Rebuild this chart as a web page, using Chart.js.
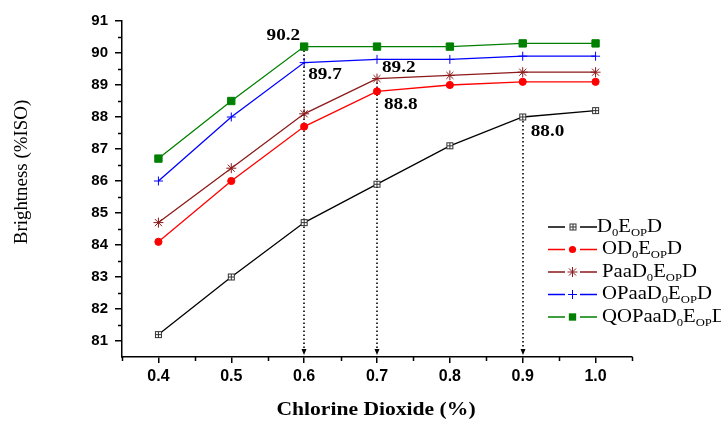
<!DOCTYPE html>
<html>
<head>
<meta charset="utf-8">
<script src="https://cdn.jsdelivr.net/npm/chart.js@4/dist/chart.umd.min.js"></script>
<style>
  html, body { margin: 0; padding: 0; background: #fff; }
  #wrap { width: 721px; height: 421px; }
</style>
</head>
<body>
<div id="wrap"><canvas id="c" width="721" height="421"></canvas></div>
<script>
// ---- data ----
const chlorineDioxide = [0.4, 0.5, 0.6, 0.7, 0.8, 0.9, 1.0];
const seriesNames = ['D_{0}E_{OP}D', 'OD_{0}E_{OP}D', 'PaaD_{0}E_{OP}D', 'OPaaD_{0}E_{OP}D', 'QOPaaD_{0}E_{OP}D'];
const d0EopD      = [81.2, 83.0, 84.7, 85.9, 87.1, 88.0, 88.2];
const od0EopD     = [84.1, 86.0, 87.7, 88.8, 89.0, 89.1, 89.1];
const paaD0EopD   = [84.7, 86.4, 88.1, 89.2, 89.3, 89.4, 89.4];
const opaaD0EopD  = [86.0, 88.0, 89.7, 89.8, 89.8, 89.9, 89.9];
const qopaaD0EopD = [86.7, 88.5, 90.2, 90.2, 90.2, 90.3, 90.3];
const xTicks = [0.4, 0.5, 0.6, 0.7, 0.8, 0.9, 1.0];
const yTicks = [81, 82, 83, 84, 85, 86, 87, 88, 89, 90, 91];
const arrowX = [0.6, 0.7, 0.9];
const arrowFromY = [90.2, 89.2, 88.0];
const labelX = [0.6, 0.6, 0.7, 0.7, 0.9];
const labelY = [90.2, 89.7, 89.2, 88.8, 88.0];
const xTitle = 'Chlorine Dioxide (%)';
const yTitle = 'Brightness (%ISO)';

// ---- styles ----
function boxPlus() {
  const c = document.createElement('canvas');
  c.width = 9; c.height = 9;
  const g = c.getContext('2d');
  g.fillStyle = '#fff'; g.fillRect(1, 1, 7, 7);
  g.strokeStyle = '#333'; g.lineWidth = 1;
  g.strokeRect(1.5, 1.5, 6, 6);
  g.beginPath(); g.moveTo(4.5, 1.5); g.lineTo(4.5, 7.5); g.moveTo(1.5, 4.5); g.lineTo(7.5, 4.5); g.stroke();
  return c;
}
const boxImg = boxPlus();
const styles = [
  { color: '#000000', point: boxImg, radius: 4 },
  { color: '#ff0000', point: 'circle', radius: 3.6, fill: true },
  { color: '#8b1a1a', point: 'star', radius: 5 },
  { color: '#0000ff', point: 'cross', radius: 4.5 },
  { color: '#008000', point: 'rect', radius: 5.2, fill: true }
];
const allSeries = [d0EopD, od0EopD, paaD0EopD, opaaD0EopD, qopaaD0EopD];

const datasets = allSeries.map((vals, i) => ({
  label: seriesNames[i],
  data: chlorineDioxide.map((x, j) => ({ x: x, y: vals[j] })),
  borderColor: styles[i].color,
  backgroundColor: styles[i].fill ? styles[i].color : '#fff',
  pointBackgroundColor: styles[i].fill ? styles[i].color : '#fff',
  pointBorderColor: styles[i].color,
  pointStyle: styles[i].point,
  pointRadius: styles[i].radius,
  pointBorderWidth: 1,
  borderWidth: 1.3,
  tension: 0,
  fill: false
}));

const SERIF = '"Liberation Serif", "Times New Roman", serif';

function drawStretched(ctx, text, x, y, font, align, sx) {
  ctx.save();
  ctx.font = font;
  ctx.textBaseline = 'middle';
  const w = ctx.measureText(text).width * sx;
  let left = x;
  if (align === 'right') left = x - w;
  else if (align === 'center') left = x - w / 2;
  ctx.translate(left, y);
  ctx.scale(sx, 1);
  ctx.textAlign = 'left';
  ctx.fillText(text, 0, 0);
  ctx.restore();
}

function drawMarker(ctx, st, x, y) {
  ctx.save();
  ctx.strokeStyle = st.color; ctx.fillStyle = st.color; ctx.lineWidth = 1;
  const r = st.radius;
  if (st.point === boxImg) {
    ctx.drawImage(boxImg, Math.round(x) - 4.5, Math.round(y) - 4.5);
  } else if (st.point === 'circle') {
    ctx.beginPath(); ctx.arc(x, y, r, 0, Math.PI * 2); ctx.fill();
  } else if (st.point === 'rect') {
    const s = r * Math.SQRT1_2;
    ctx.fillRect(x - s, y - s, 2 * s, 2 * s);
  } else if (st.point === 'cross') {
    ctx.beginPath(); ctx.moveTo(x - r, y); ctx.lineTo(x + r, y); ctx.moveTo(x, y - r); ctx.lineTo(x, y + r); ctx.stroke();
  } else if (st.point === 'star') {
    ctx.beginPath();
    for (let k = 0; k < 4; k++) {
      const a = k * Math.PI / 4;
      ctx.moveTo(x - r * Math.cos(a), y - r * Math.sin(a));
      ctx.lineTo(x + r * Math.cos(a), y + r * Math.sin(a));
    }
    ctx.stroke();
  }
  ctx.restore();
}

const decorPlugin = {
  id: 'decor',
  beforeDatasetsDraw(chart) {
    const ctx = chart.ctx, xs = chart.scales.x, ys = chart.scales.y;
    const ca = chart.chartArea;
    ctx.save();
    ctx.strokeStyle = '#000'; ctx.lineWidth = 1.5;
    // minor ticks
    ctx.beginPath();
    for (let k = 0; k < xTicks.length + 1; k++) {
      const v = 0.35 + k * 0.1;
      const px = Math.round(xs.getPixelForValue(v)) + 0.5;
      ctx.moveTo(px, ca.bottom); ctx.lineTo(px, ca.bottom + 4);
    }
    for (let k = 0; k < yTicks.length - 1; k++) {
      const v = yTicks[k] + 0.5;
      const py = Math.round(ys.getPixelForValue(v)) + 0.5;
      ctx.moveTo(ca.left, py); ctx.lineTo(ca.left - 4, py);
    }
    ctx.stroke();
    // dotted arrows
    ctx.setLineDash([1.5, 2.5]);
    ctx.lineWidth = 1.6;
    arrowX.forEach((xv, i) => {
      const px = Math.round(xs.getPixelForValue(xv));
      const py = ys.getPixelForValue(arrowFromY[i]);
      ctx.beginPath(); ctx.moveTo(px, py + 4); ctx.lineTo(px, ca.bottom - 7); ctx.stroke();
    });
    ctx.setLineDash([]);
    ctx.fillStyle = '#000';
    arrowX.forEach((xv) => {
      const px = Math.round(xs.getPixelForValue(xv));
      const tip = ca.bottom - 2;
      ctx.beginPath(); ctx.moveTo(px - 2.5, tip - 6); ctx.lineTo(px + 2.5, tip - 6); ctx.lineTo(px, tip); ctx.closePath(); ctx.fill();
    });
    ctx.restore();
  },
  afterDraw(chart) {
    const ctx = chart.ctx, xs = chart.scales.x, ys = chart.scales.y;
    ctx.save();
    ctx.fillStyle = '#000';
    // value labels
    const offs = [[-4, -11, 'right'], [4, 12, 'left'], [5, -11, 'left'], [7, 13, 'left'], [8, 15, 'left']];
    labelX.forEach((xv, i) => {
      const px = xs.getPixelForValue(xv), py = ys.getPixelForValue(labelY[i]);
      drawStretched(ctx, labelY[i].toFixed(1), px + offs[i][0], py + offs[i][1], 'bold 16px ' + SERIF, offs[i][2], 1.2);
    });
    // axis titles
    drawStretched(ctx, xTitle, 376, 410, 'bold 18px ' + SERIF, 'center', 1.2);
    ctx.save();
    ctx.translate(22, 172);
    ctx.rotate(-Math.PI / 2);
    ctx.scale(1.05, 1.0);
    ctx.font = '18px ' + SERIF;
    ctx.textAlign = 'center'; ctx.textBaseline = 'middle';
    ctx.fillText(yTitle, 0, 0);
    ctx.restore();
    // legend
    chart.data.datasets.forEach((ds, i) => {
      const st = styles[i];
      const y = 227 + i * 22.5;
      ctx.save();
      ctx.strokeStyle = st.color; ctx.lineWidth = 1.4;
      ctx.beginPath(); ctx.moveTo(548, y); ctx.lineTo(565, y); ctx.moveTo(580, y); ctx.lineTo(597, y); ctx.stroke();
      ctx.restore();
      drawMarker(ctx, st, 572.5, y);
      // text with subscripts
      const parts = ds.label.split(/(_\{[^}]*\})/).filter(s => s.length);
      let x = i === 0 ? 597 : 602;
      parts.forEach(p => {
        if (p.startsWith('_{')) {
          const t = p.slice(2, -1);
          ctx.font = '11px ' + SERIF;
          drawStretched(ctx, t, x, y + 6, '11px ' + SERIF, 'left', 1.15);
          x += ctx.measureText(t).width * 1.15;
        } else {
          ctx.font = '18px ' + SERIF;
          drawStretched(ctx, p, x, y, '18px ' + SERIF, 'left', 1.15);
          x += ctx.measureText(p).width * 1.15;
        }
      });
    });
    ctx.restore();
  }
};

new Chart(document.getElementById('c'), {
  type: 'line',
  data: { datasets: datasets },
  options: {
    responsive: false,
    animation: false,
    devicePixelRatio: 1,
    layout: { padding: { left: 0, right: 89, top: 21, bottom: 0 } },
    plugins: { legend: { display: false }, tooltip: { enabled: false } },
    scales: {
      x: {
        type: 'linear',
        min: 0.35, max: 1.05,
        afterBuildTicks(scale) { scale.ticks = xTicks.map(v => ({ value: v })); },
        afterFit(scale) { scale.height = 64; },
        grid: { drawOnChartArea: false, drawTicks: true, tickLength: 6, color: '#000', lineWidth: 1.5 },
        border: { display: true, color: '#000', width: 1.5 },
        ticks: {
          callback: v => Number(v).toFixed(1),
          font: { family: '"Liberation Sans", Arial, sans-serif', size: 16, weight: 'bold' },
          color: '#000', padding: 4, maxRotation: 0, autoSkip: false
        }
      },
      y: {
        type: 'linear',
        min: 80.5, max: 91,
        afterBuildTicks(scale) { scale.ticks = yTicks.map(v => ({ value: v })); },
        afterFit(scale) { scale.width = 122; },
        grid: { drawOnChartArea: false, drawTicks: true, tickLength: 7, color: '#000', lineWidth: 1.5 },
        border: { display: true, color: '#000', width: 1.5 },
        ticks: {
          callback: v => String(v),
          font: { family: '"Liberation Sans", Arial, sans-serif', size: 15, weight: 'bold' },
          color: '#000', padding: 7, autoSkip: false
        }
      }
    }
  },
  plugins: [decorPlugin]
});
</script>
</body>
</html>
